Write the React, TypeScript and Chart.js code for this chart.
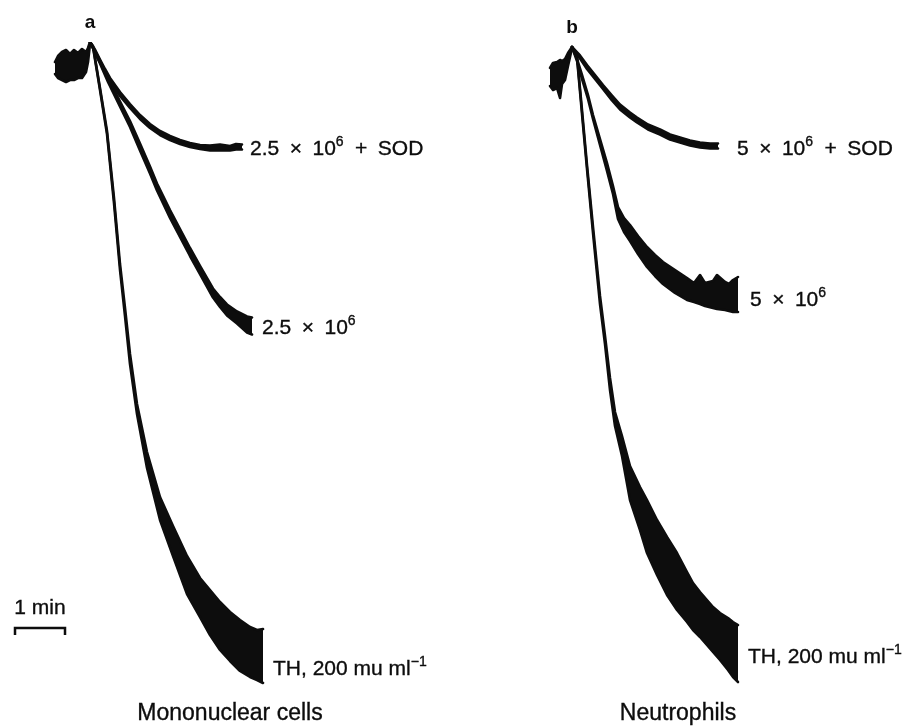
import React, { useEffect, useRef } from "react";
import { Chart, registerables } from "chart.js";

Chart.register(...registerables);

const FONT = '"Liberation Sans", Arial, Helvetica, sans-serif';
const INK = "#0d0d0d";

// ---------- DATA (time in min, signal in arbitrary units) ----------
// Panel a — mononuclear cells
const A_BASE_T = [0.30, 0.36, 0.44, 0.52, 0.60, 0.68, 0.76, 0.84, 0.92, 0.96, 1.00];
const A_BASE_HI = [126.0, 127.2, 128.0, 128.4, 127.6, 128.4, 127.8, 128.6, 128.0, 128.8, 130.0];
const A_BASE_LO = [123.6, 122.8, 122.4, 122.0, 122.4, 122.4, 122.8, 122.8, 124.0, 126.0, 129.6];

const A_SOD_T = [1.0, 1.1, 1.2, 1.3, 1.4, 1.6, 1.8, 2.0, 2.2, 2.4, 2.6, 2.8, 3.0, 3.2, 3.4, 3.6, 3.8, 3.92, 4.04];
const A_SOD_HI = [130.0, 128.5, 126.5, 124.6, 122.8, 120.0, 117.6, 115.4, 113.6, 112.2, 111.2, 110.4, 109.8, 109.4, 109.3, 109.5, 109.2, 109.6, 109.5];
const A_SOD_LO = [130.0, 127.9, 125.9, 123.8, 122.0, 119.2, 116.8, 114.6, 112.8, 111.4, 110.4, 109.6, 109.0, 108.6, 108.3, 108.3, 108.3, 108.5, 108.5];

const A_MID_T = [1.0, 1.2, 1.36, 1.56, 1.8, 2.0, 2.2, 2.34, 2.6, 2.8, 3.0, 3.2, 3.46, 3.6, 3.74, 3.94, 4.14, 4.24];
const A_MID_HI = [130.0, 126.3, 122.8, 118.9, 114.2, 109.7, 105.1, 101.7, 96.4, 92.6, 88.8, 85.2, 80.7, 79.0, 77.5, 76.1, 75.1, 74.9];
const A_MID_LO = [130.0, 125.7, 122.0, 117.9, 113.0, 108.3, 103.7, 100.3, 94.8, 91.0, 87.2, 83.6, 78.9, 77.0, 75.3, 73.7, 71.9, 71.5];

const A_TH_T = [1.0, 1.06, 1.2, 1.34, 1.48, 1.6, 1.7, 1.8, 1.94, 2.14, 2.4, 2.66, 2.94, 3.2, 3.4, 3.6, 3.8, 4.0, 4.2, 4.34, 4.46];
const A_TH_HI = [130.0, 129.2, 120.8, 112.2, 98.8, 85.6, 76.8, 67.6, 57.6, 48.0, 39.0, 33.2, 27.2, 22.8, 20.4, 18.0, 16.0, 14.4, 13.0, 12.4, 12.6];
const A_TH_LO = [130.0, 129.0, 120.4, 111.6, 97.8, 84.4, 75.2, 65.6, 55.6, 44.8, 34.4, 27.2, 19.6, 15.0, 11.4, 8.4, 6.2, 4.2, 3.0, 2.4, 1.8];

// Panel b — neutrophils
const B_BASE_T = [0.56, 0.62, 0.70, 0.76, 0.80, 0.86, 0.92, 1.00];
const B_BASE_HI = [124.8, 125.8, 126.0, 126.4, 126.2, 126.6, 127.8, 129.0];
const B_BASE_LO = [121.2, 120.4, 120.8, 118.8, 121.6, 122.4, 125.2, 128.8];

const B_SOD_T = [1.0, 1.16, 1.3, 1.46, 1.62, 1.8, 1.96, 2.16, 2.3, 2.52, 2.76, 2.96, 3.16, 3.36, 3.56, 3.76, 3.92];
const B_SOD_HI = [129.0, 127.3, 125.4, 123.4, 121.4, 119.3, 117.5, 115.9, 114.9, 113.5, 112.5, 111.5, 110.9, 110.3, 109.9, 109.7, 109.7];
const B_SOD_LO = [129.0, 126.7, 124.6, 122.6, 120.6, 118.3, 116.5, 114.9, 113.9, 112.5, 111.5, 110.5, 109.9, 109.3, 108.9, 108.7, 108.7];

const B_MID_T = [1.0, 1.1, 1.2, 1.32, 1.42, 1.56, 1.7, 1.82, 1.92, 2.04, 2.16, 2.32, 2.5, 2.66, 2.82, 3.06, 3.3, 3.44, 3.56, 3.66, 3.82, 3.9, 4.06, 4.14, 4.22, 4.32];
const B_MID_HI = [129.0, 126.6, 123.4, 119.4, 115.4, 110.6, 105.8, 101.2, 97.0, 94.8, 93.4, 91.2, 89.0, 87.4, 86.0, 84.4, 82.8, 81.8, 83.4, 81.8, 82.2, 83.4, 82.0, 81.6, 82.4, 83.0];
const B_MID_LO = [129.0, 126.2, 122.6, 118.6, 114.6, 109.4, 104.2, 99.6, 94.6, 92.0, 90.2, 87.6, 85.0, 83.2, 81.6, 79.8, 78.4, 78.0, 77.6, 77.2, 76.8, 76.6, 76.4, 76.2, 76.0, 76.0];

const B_TH_T = [1.0, 1.1, 1.2, 1.3, 1.42, 1.56, 1.66, 1.76, 1.86, 2.0, 2.16, 2.36, 2.5, 2.7, 2.9, 3.1, 3.3, 3.42, 3.56, 3.82, 3.96, 4.12, 4.22, 4.32];
const B_TH_HI = [129.0, 127.2, 116.4, 105.4, 93.0, 79.2, 71.2, 62.8, 56.0, 51.2, 45.2, 41.0, 38.4, 34.4, 31.0, 27.8, 24.0, 21.8, 20.0, 17.0, 15.8, 14.8, 14.0, 13.4];
const B_TH_LO = [129.0, 126.8, 115.6, 104.6, 91.8, 77.6, 69.6, 60.4, 53.2, 47.2, 38.4, 32.4, 27.8, 23.4, 19.4, 16.4, 14.0, 12.4, 11.0, 8.0, 6.4, 4.4, 3.0, 2.0];

// Labels: even entries normal text, odd entries superscript
const A_LABELS = [
  null,
  ["2.5\u2002\u00d7\u200210", "6", "\u2002+\u2002SOD"],
  ["2.5\u2002\u00d7\u200210", "6"],
  ["TH, 200 mu ml", "\u22121"],
];
const B_LABELS = [
  null,
  ["5\u2002\u00d7\u200210", "6", "\u2002+\u2002SOD"],
  ["5\u2002\u00d7\u200210", "6"],
  ["TH, 200 mu ml", "\u22121"],
];
const TITLES = ["Mononuclear cells", "Neutrophils"];
const LETTERS = ["a", "b"];
const SCALE_BAR_MIN = 1;

// ---------- LAYOUT / STYLE ----------
const PANEL_A = {
  traces: [
    { t: A_BASE_T, hi: A_BASE_HI, lo: A_BASE_LO },
    { t: A_SOD_T, hi: A_SOD_HI, lo: A_SOD_LO },
    { t: A_MID_T, hi: A_MID_HI, lo: A_MID_LO },
    { t: A_TH_T, hi: A_TH_HI, lo: A_TH_LO },
  ],
  labels: A_LABELS,
  labelOff: [null, [8, 0], [10, 0], [10, 11]],
  padding: { left: 40, right: 14, top: 42, bottom: 35 },
  xMax: 8,
  letter: LETTERS[0],
  title: TITLES[0],
  titleT: 3.8,
  scaleBar: true,
};
const PANEL_B = {
  traces: [
    { t: B_BASE_T, hi: B_BASE_HI, lo: B_BASE_LO },
    { t: B_SOD_T, hi: B_SOD_HI, lo: B_SOD_LO },
    { t: B_MID_T, hi: B_MID_HI, lo: B_MID_LO },
    { t: B_TH_T, hi: B_TH_HI, lo: B_TH_LO },
  ],
  labels: B_LABELS,
  labelOff: [null, [19, 1], [12, 4], [10, 2]],
  padding: { left: 68, right: 11, top: 42, bottom: 35 },
  xMax: 7.5,
  letter: LETTERS[1],
  title: TITLES[1],
  titleT: 3.12,
  scaleBar: false,
};

function buildDatasets(traces: any[]) {
  const ds: any[] = [];
  traces.forEach((tr) => {
    ds.push({
      data: tr.t.map((x: number, i: number) => ({ x, y: tr.hi[i] })),
      borderColor: INK,
      borderWidth: 2.6,
      pointRadius: 0,
      fill: false,
      tension: 0,
      borderJoinStyle: "round",
      borderCapStyle: "round",
    });
    ds.push({
      data: tr.t.map((x: number, i: number) => ({ x, y: tr.lo[i] })),
      borderColor: INK,
      backgroundColor: INK,
      borderWidth: 2.6,
      pointRadius: 0,
      fill: "-1",
      tension: 0,
      borderJoinStyle: "round",
      borderCapStyle: "round",
    });
  });
  return ds;
}

function drawText(ctx: CanvasRenderingContext2D, s: string, x: number, y: number) {
  ctx.fillText(s, x, y);
  ctx.strokeText(s, x, y);
}

function drawParts(ctx: CanvasRenderingContext2D, parts: string[], x: number, base: number) {
  let cx = x;
  parts.forEach((s, i) => {
    const sup = i % 2 === 1;
    ctx.font = sup ? `14px ${FONT}` : `21px ${FONT}`;
    drawText(ctx, s, cx, sup ? base - 9 : base);
    cx += ctx.measureText(s).width + (sup ? 1 : 0);
  });
}

function Panel({ cfg }: { cfg: any }) {
  const ref = useRef<HTMLCanvasElement>(null);
  useEffect(() => {
    if (!ref.current) return;
    const overlay = {
      id: "overlay",
      afterDraw(chart: any) {
        const ctx: CanvasRenderingContext2D = chart.ctx;
        const xs = chart.scales.x;
        const ys = chart.scales.y;
        ctx.save();
        ctx.fillStyle = INK;
        ctx.strokeStyle = INK;
        ctx.lineWidth = 0.35;
        ctx.textAlign = "left";
        ctx.textBaseline = "alphabetic";
        // trace labels
        cfg.traces.forEach((tr: any, i: number) => {
          const parts = cfg.labels[i];
          if (!parts) return;
          const n = tr.t.length - 1;
          const px = xs.getPixelForValue(tr.t[n]) + cfg.labelOff[i][0];
          const py = (ys.getPixelForValue(tr.hi[n]) + ys.getPixelForValue(tr.lo[n])) / 2 + cfg.labelOff[i][1];
          drawParts(ctx, parts, px, py + 7.5);
        });
        // panel letter above the peak
        const first = cfg.traces[1];
        ctx.font = `bold 19px ${FONT}`;
        ctx.textAlign = "center";
        ctx.fillText(cfg.letter, xs.getPixelForValue(first.t[0]), ys.getPixelForValue(first.hi[0]) - 14);
        // bottom title
        ctx.font = `23px ${FONT}`;
        drawText(ctx, cfg.title, xs.getPixelForValue(cfg.titleT), chart.height - 7);
        // time scale bar
        if (cfg.scaleBar) {
          const x0 = xs.getPixelForValue(-SCALE_BAR_MIN / 2);
          const x1 = xs.getPixelForValue(SCALE_BAR_MIN / 2);
          const yb = ys.getPixelForValue(12.8);
          const yt = ys.getPixelForValue(11.4);
          ctx.font = `21px ${FONT}`;
          ctx.textAlign = "center";
          drawText(ctx, `${SCALE_BAR_MIN} min`, (x0 + x1) / 2, ys.getPixelForValue(15.6));
          ctx.lineWidth = 2.5;
          ctx.lineJoin = "miter";
          ctx.beginPath();
          ctx.moveTo(x0, yt);
          ctx.lineTo(x0, yb);
          ctx.lineTo(x1, yb);
          ctx.lineTo(x1, yt);
          ctx.stroke();
        }
        ctx.restore();
      },
    };
    const chart = new Chart(ref.current, {
      type: "line",
      data: { datasets: buildDatasets(cfg.traces) },
      options: {
        animation: false,
        responsive: true,
        maintainAspectRatio: false,
        events: [],
        layout: { padding: cfg.padding },
        scales: {
          x: { type: "linear", min: 0, max: cfg.xMax, display: false },
          y: { type: "linear", min: 0, max: 130, display: false },
        },
        plugins: { legend: { display: false }, tooltip: { enabled: false } },
      } as any,
      plugins: [overlay as any],
    });
    return () => chart.destroy();
  }, [cfg]);
  return <canvas ref={ref} />;
}

export default function App() {
  return (
    <div style={{ position: "fixed", left: 0, top: 0, width: 908, height: 727, background: "#fff" }}>
      <div style={{ position: "absolute", left: 0, top: 0, width: 454, height: 727 }}>
        <Panel cfg={PANEL_A} />
      </div>
      <div style={{ position: "absolute", left: 454, top: 0, width: 454, height: 727 }}>
        <Panel cfg={PANEL_B} />
      </div>
    </div>
  );
}
